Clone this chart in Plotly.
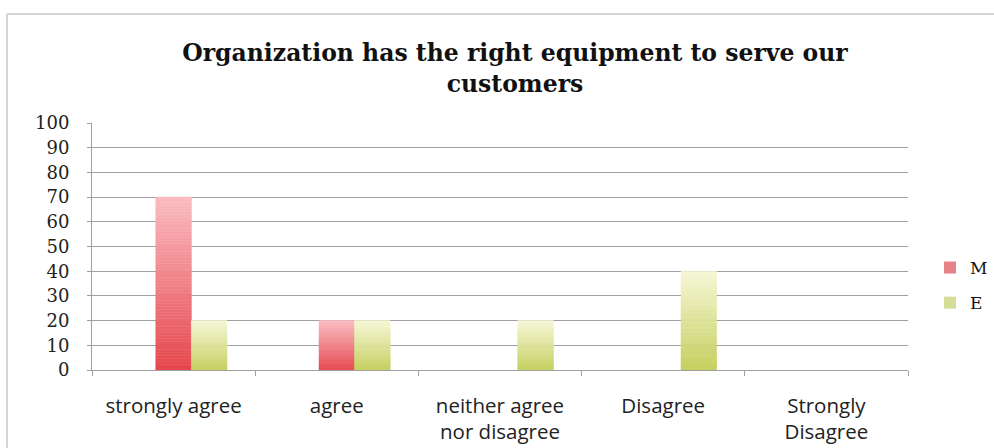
import plotly.graph_objects as go

# Survey answers and share of respondents (%) per group
categories = ["strongly agree", "agree", "neither agree<br>nor disagree",
              "Disagree", "Strongly<br>Disagree"]
m_values = [70, 20, 0, 0, 0]
e_values = [20, 20, 20, 40, 0]
y_ticks = list(range(0, 101, 10))

# Vertical gradient for each series: bottom colour -> top colour
M_BOTTOM, M_TOP = (229, 70, 76), (250, 188, 193)
E_BOTTOM, E_TOP = (196, 207, 92), (246, 247, 214)
N_SLICES = 60
BAR_W = 0.218

W, H = 994, 448
L, R, T, B = 92, 86, 123, 78
PW, PH = W - L - R, H - T - B


def mix(a, b, t):
    return "rgb(%d,%d,%d)" % tuple(round(a[i] + (b[i] - a[i]) * t) for i in range(3))


fig = go.Figure()


def add_gradient_bars(name, values, bottom, top, offset, legend_color):
    # Each bar is split into equal slices so the fill can fade from bottom to top
    for k in range(N_SLICES):
        t = (k + 0.5) / N_SLICES
        col = mix(bottom, top, t)
        fig.add_trace(go.Bar(
            x=categories,
            y=[v / N_SLICES if v else None for v in values],
            base=[v * k / N_SLICES for v in values],
            width=BAR_W,
            offset=offset,
            marker=dict(color=col, line=dict(color=col, width=0.5)),
            showlegend=False,
            hoverinfo="skip",
        ))
    # Legend entry for the series
    fig.add_trace(go.Bar(
        x=[categories[0]], y=[None], name=name,
        marker=dict(color=legend_color, line=dict(width=0)),
        legendgroup=name, showlegend=True,
    ))


# Three slots per category: an empty one on the left, then M (centred), then E
add_gradient_bars("M", m_values, M_BOTTOM, M_TOP, -BAR_W / 2, "rgb(232,130,137)")
add_gradient_bars("E", e_values, E_BOTTOM, E_TOP, BAR_W / 2, "rgb(214,221,150)")

fig.update_layout(
    width=W, height=H,
    barmode="overlay",
    paper_bgcolor="white", plot_bgcolor="white",
    margin=dict(l=L, r=R, t=T, b=B, autoexpand=False),
    title=dict(
        text="Organization has the right equipment to serve our<br>customers",
        font=dict(family="DejaVu Serif", size=23.5, color="#111111", weight="bold"),
        x=515 / W, xanchor="center", xref="container",
        y=1 - 61 / H, yanchor="top", yref="container",
    ),
    xaxis=dict(
        type="category",
        range=[-0.5, 4.5],
        tickson="boundaries",
        ticks="outside", ticklen=5, tickcolor="#a0a0a0",
        showline=True, linecolor="#a0a0a0", linewidth=1,
        showgrid=False,
        ticklabelstandoff=17,
        tickfont=dict(family="Open Sans", size=20.5, color="#222222"),
    ),
    yaxis=dict(
        range=[0, 100],
        tickvals=y_ticks,
        ticks="outside", ticklen=4, tickcolor="#a0a0a0",
        showline=True, linecolor="#a0a0a0", linewidth=1,
        showgrid=True, gridcolor="#a0a0a0", gridwidth=1,
        zeroline=False,
        ticklabelstandoff=14,
        tickfont=dict(family="DejaVu Serif", size=18, color="#222222"),
    ),
    legend=dict(
        xref="container", yref="container",
        x=930 / W, xanchor="left", y=1 - 285.5 / H, yanchor="middle",
        font=dict(family="DejaVu Serif", size=17, color="#111111"),
        tracegroupgap=10, itemwidth=30,
        bgcolor="rgba(0,0,0,0)",
    ),
    shapes=[
        # Outer chart frame (top and left edges)
        dict(type="line", xref="paper", yref="paper",
             x0=(7 - L) / PW, x1=(W + 5 - L) / PW,
             y0=(H - 14 - B) / PH, y1=(H - 14 - B) / PH,
             line=dict(color="#d4d4d4", width=2)),
        dict(type="line", xref="paper", yref="paper",
             x0=(7 - L) / PW, x1=(7 - L) / PW,
             y0=(H - 14 - B) / PH, y1=(-5 - B) / PH,
             line=dict(color="#d4d4d4", width=2)),
    ],
)

fig.write_html("out.html")
